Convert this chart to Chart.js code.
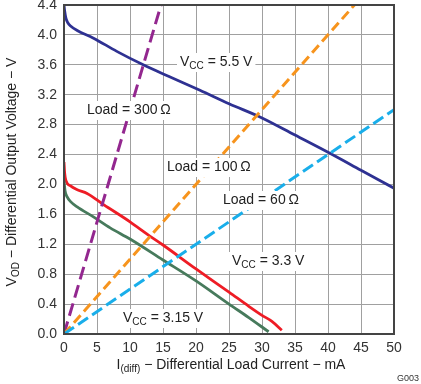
<!DOCTYPE html>
<html>
<head>
<meta charset="utf-8">
<script src="https://cdn.jsdelivr.net/npm/chart.js@4.4.0/dist/chart.umd.min.js"></script>
<style>
    html, body { margin: 0; padding: 0; background: #fff; }
    #wrap { position: relative; width: 421px; height: 384px; }
</style>
</head>
<body>
<div id="wrap"><canvas id="chart" width="421" height="384"></canvas></div>
<script>
// axis ticks
const xTicks = [0, 5, 10, 15, 20, 25, 30, 35, 40, 45, 50];
const yTicks = [0.0, 0.4, 0.8, 1.2, 1.6, 2.0, 2.4, 2.8, 3.2, 3.6, 4.0, 4.4];

// VCC = 5.5 V
const vcc55X = [0, 0.1, 0.3, 0.6, 1, 2, 4.4, 8, 12, 16, 20.6, 25, 30, 35, 40, 45, 50];
const vcc55Y = [4.4, 4.32, 4.22, 4.16, 4.12, 4.06, 3.96, 3.78, 3.6, 3.44, 3.26, 3.08, 2.89, 2.66, 2.43, 2.19, 1.95];

// VCC = 3.3 V
const vcc33X = [0, 0.1, 0.3, 1, 2, 3.5, 6, 10, 13, 15, 20, 25, 28, 30, 31.5, 33];
const vcc33Y = [2.3, 2.15, 2.05, 1.98, 1.93, 1.88, 1.73, 1.5, 1.31, 1.19, 0.87, 0.56, 0.37, 0.25, 0.17, 0.05];

// VCC = 3.15 V
const vcc315X = [0, 0.15, 0.5, 1, 2, 4.4, 7, 10, 15, 20, 25, 28, 31];
const vcc315Y = [2.05, 1.92, 1.83, 1.77, 1.7, 1.57, 1.42, 1.27, 0.99, 0.71, 0.4, 0.22, 0.03];

// load lines (end points)
const load300X = [0, 14.7];
const load300Y = [0, 4.4];
const load100X = [0, 44];
const load100Y = [0, 4.4];
const load60X = [0, 50];
const load60Y = [0, 3.0];

const pts = (xs, ys) => xs.map((x, i) => ({ x, y: ys[i] }));

const FONT = '"Liberation Sans", Arial, sans-serif';

// text with subscripts, white box behind
function richWidth(ctx, parts) {
    let w = 0;
    parts.forEach(p => {
        ctx.font = (p.sub ? '10px ' : '14px ') + FONT;
        w += ctx.measureText(p.t).width;
    });
    return w;
}
function drawRich(ctx, parts, x, y, box) {
    const w = richWidth(ctx, parts);
    if (box) {
        ctx.fillStyle = '#fff';
        ctx.fillRect(x - 3, y - 9, w + 6, 19);
    }
    ctx.fillStyle = '#222';
    ctx.textBaseline = 'middle';
    ctx.textAlign = 'left';
    let cx = x;
    parts.forEach(p => {
        ctx.font = (p.sub ? '10px ' : '14px ') + FONT;
        ctx.fillText(p.t, cx, p.sub ? y + 4 : y);
        cx += ctx.measureText(p.t).width;
    });
}

const notes = [
    { parts: [{ t: 'V' }, { t: 'CC', sub: true }, { t: ' = 5.5 V' }], x: 180, y: 62 },
    { parts: [{ t: 'Load = 300\u2009\u03A9' }], x: 87, y: 110 },
    { parts: [{ t: 'Load = 100\u2009\u03A9' }], x: 167, y: 167 },
    { parts: [{ t: 'Load = 60\u2009\u03A9' }], x: 223, y: 200 },
    { parts: [{ t: 'V' }, { t: 'CC', sub: true }, { t: ' = 3.3 V' }], x: 232, y: 261 },
    { parts: [{ t: 'V' }, { t: 'CC', sub: true }, { t: ' = 3.15 V' }], x: 123, y: 318 }
];

const annotate = {
    id: 'annotate',
    afterDatasetsDraw(chart) {
        const ctx = chart.ctx;
        const a = chart.chartArea;
        ctx.save();
        notes.forEach(n => drawRich(ctx, n.parts, n.x, n.y, true));

        // frame
        ctx.strokeStyle = '#444';
        ctx.lineWidth = 2;
        ctx.strokeRect(a.left, a.top, a.right - a.left, a.bottom - a.top);

        // y title
        const yParts = [{ t: 'V' }, { t: 'OD', sub: true }, { t: ' \u2212 Differential Output Voltage \u2212 V' }];
        ctx.translate(12, 172);
        ctx.rotate(-Math.PI / 2);
        drawRich(ctx, yParts, -richWidth(ctx, yParts) / 2, 0, false);
        ctx.restore();

        ctx.save();
        const xParts = [{ t: 'I' }, { t: '(diff)', sub: true }, { t: ' \u2212 Differential Load Current \u2212 mA' }];
        drawRich(ctx, xParts, 231 - richWidth(ctx, xParts) / 2, 365, false);

        ctx.font = '9px ' + FONT;
        ctx.fillStyle = '#333';
        ctx.textAlign = 'right';
        ctx.textBaseline = 'middle';
        ctx.fillText('G003', 419, 379);
        ctx.restore();
    }
};

const solid = (data, color) => ({
    data, borderColor: color, borderWidth: 2.8, pointRadius: 0,
    showLine: true, fill: false, cubicInterpolationMode: 'monotone'
});
const dashed = (data, color, dash) => ({
    data, borderColor: color, borderWidth: 3, pointRadius: 0,
    showLine: true, fill: false, borderDash: dash
});

new Chart(document.getElementById('chart'), {
    type: 'scatter',
    data: {
        datasets: [
            dashed(pts(load60X, load60Y), '#19AEEA', [12, 5]),
            dashed(pts(load100X, load100Y), '#F7941D', [10, 5]),
            dashed(pts(load300X, load300Y), '#93278F', [13, 6]),
            solid(pts(vcc315X, vcc315Y), '#477A5C'),
            solid(pts(vcc33X, vcc33Y), '#EE1C25'),
            solid(pts(vcc55X, vcc55Y), '#2E3192')
        ]
    },
    options: {
        responsive: false,
        animation: false,
        devicePixelRatio: 1,
        layout: { padding: { left: 0, right: 27, top: 5, bottom: 0 } },
        plugins: { legend: { display: false }, tooltip: { enabled: false } },
        scales: {
            x: {
                type: 'linear', min: 0, max: 50,
                afterBuildTicks: s => { s.ticks = xTicks.map(v => ({ value: v })); },
                afterFit: s => { s.height = 50; s.paddingLeft = 0; s.paddingRight = 0; },
                grid: { color: '#a0a0a0', lineWidth: 1, drawTicks: false },
                border: { display: false },
                ticks: { autoSkip: false, maxRotation: 0, padding: 6, color: '#333', font: { family: FONT, size: 14 } }
            },
            y: {
                type: 'linear', min: 0, max: 4.4,
                afterBuildTicks: s => { s.ticks = yTicks.map(v => ({ value: v })); },
                afterFit: s => { s.width = 64; s.paddingTop = 0; s.paddingBottom = 0; },
                grid: { color: '#a0a0a0', lineWidth: 1, drawTicks: false },
                border: { display: false },
                ticks: { autoSkip: false, padding: 7, color: '#333', font: { family: FONT, size: 14 },
                    callback: v => v.toFixed(1) }
            }
        }
    },
    plugins: [annotate]
});
</script>
</body>
</html>
